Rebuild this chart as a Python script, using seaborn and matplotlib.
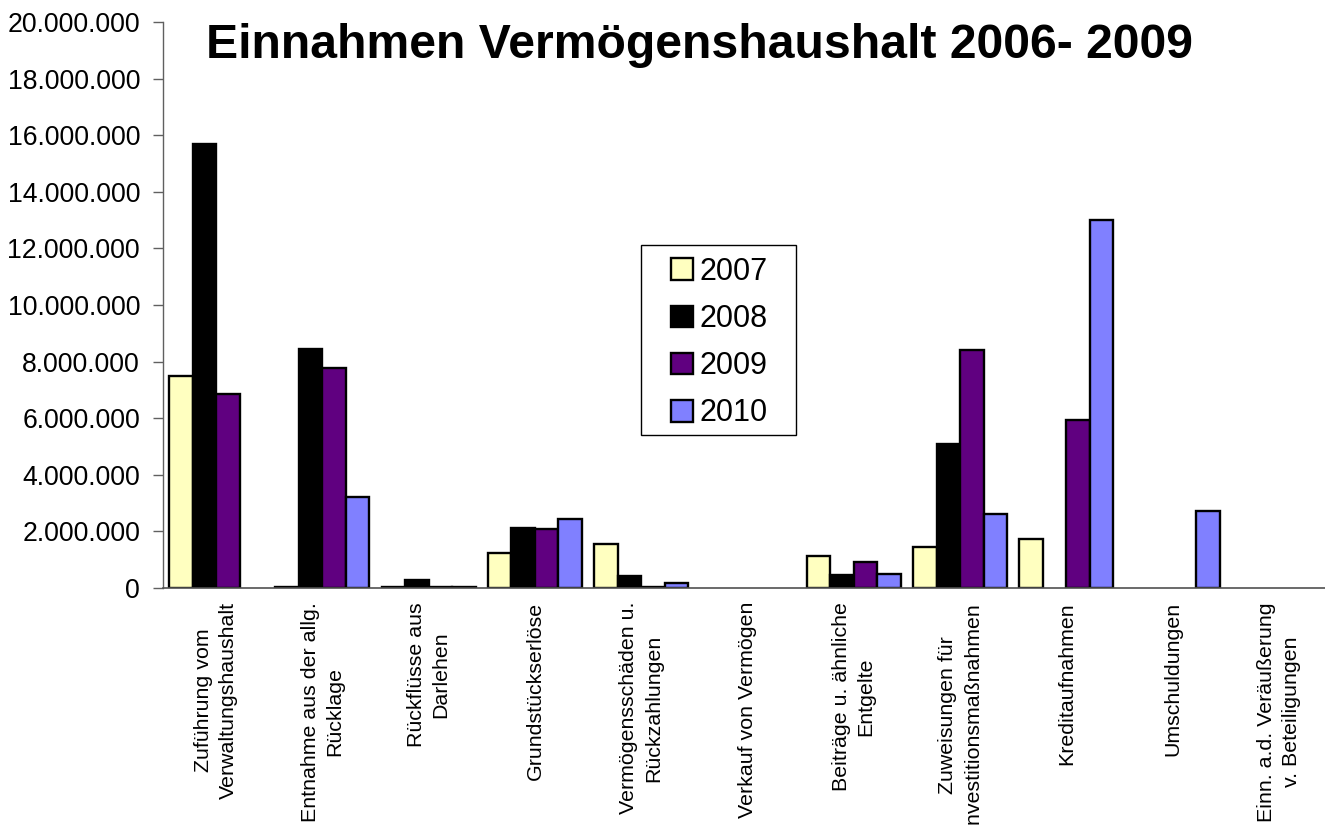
import numpy as np
import pandas as pd
import seaborn as sns
import matplotlib.pyplot as plt
from matplotlib.patches import Rectangle
from matplotlib.ticker import FuncFormatter, FixedLocator

# Daten (Werte in Euro)
kategorien = [
    "Zuführung vom\nVerwaltungshaushalt",
    "Entnahme aus der allg.\nRücklage",
    "Rückflüsse aus\nDarlehen",
    "Grundstückserlöse",
    "Vermögensschäden u.\nRückzahlungen",
    "Verkauf von Vermögen",
    "Beiträge u. ähnliche\nEntgelte",
    "Zuweisungen für\nInvestitionsmaßnahmen",
    "Kreditaufnahmen",
    "Umschuldungen",
    "Einn. a.d. Veräußerung\nv. Beteiligungen",
]
jahre = ["2007", "2008", "2009", "2010"]

werte_2007 = [7500000, 50000, 30000, 1240000, 1550000, np.nan, 1120000, 1440000, 1730000, np.nan, np.nan]
werte_2008 = [15700000, 8450000, 280000, 2120000, 420000, np.nan, 470000, 5100000, np.nan, np.nan, np.nan]
werte_2009 = [6850000, 7780000, 40000, 2100000, 30000, np.nan, 920000, 8400000, 5950000, np.nan, np.nan]
werte_2010 = [np.nan, 3220000, 50000, 2450000, 180000, np.nan, 500000, 2600000, 13000000, 2720000, np.nan]

farben = ["#FFFFC0", "#000000", "#600080", "#8080FF"]

# Long-Format für seaborn
rows = []
for jahr, werte in zip(jahre, [werte_2007, werte_2008, werte_2009, werte_2010]):
    for kat, w in zip(kategorien, werte):
        rows.append({"Kategorie": kat, "Jahr": jahr, "Wert": w})
df = pd.DataFrame(rows).dropna()

sns.set_style("white")
plt.rcParams["font.family"] = ["Liberation Sans", "DejaVu Sans"]
plt.rcParams["text.color"] = "black"
plt.rcParams["xtick.color"] = "black"
plt.rcParams["ytick.color"] = "black"

fig = plt.figure(figsize=(13.25, 8.25), dpi=100)
ax = fig.add_axes([163 / 1325, 1 - 588 / 825, 1169 / 1325, 566 / 825])

sns.barplot(data=df, x="Kategorie", y="Wert", hue="Jahr", order=kategorien,
            hue_order=jahre, palette=farben, saturation=1, width=0.885, gap=0,
            edgecolor="black", linewidth=1.7, errorbar=None, ax=ax)

ax.set_xlim(-0.5, len(kategorien) - 0.5)
ax.set_ylim(0, 20000000)
ax.set_yticks(np.arange(0, 20000001, 2000000))
ax.yaxis.set_major_formatter(FuncFormatter(lambda v, p: f"{int(v):,}".replace(",", ".")))
ax.set_xlabel("")
ax.set_ylabel("")

ax.xaxis.set_minor_locator(FixedLocator(np.arange(-0.5, len(kategorien), 1.0)))
ax.tick_params(axis="x", which="major", length=0, pad=10, labelsize=15.4)
ax.tick_params(axis="x", which="minor", length=12, direction="inout", color="#404040", width=1)
ax.tick_params(axis="y", which="major", length=7.5, direction="out", color="#606060",
               width=1, labelsize=19.2, pad=9, left=True)
for lab in ax.get_xticklabels():
    lab.set_rotation(90)
    lab.set_ha("center")
    lab.set_va("top")
    lab.set_multialignment("center")
    lab.set_linespacing(1.38)

for s in ["top", "right"]:
    ax.spines[s].set_visible(False)
ax.spines["left"].set_color("#606060")
ax.spines["bottom"].set_color("#505050")
ax.spines["left"].set_linewidth(1)
ax.spines["bottom"].set_linewidth(1.2)

# Legende ohne eigenen Rahmen, Rahmen separat an fester Stelle
handles, labels = ax.get_legend_handles_labels()
ax.legend(handles, labels, loc="upper left", bbox_to_anchor=(671 / 1325, 1 - 257 / 825),
          bbox_transform=fig.transFigure, borderaxespad=0, borderpad=0, frameon=False,
          fontsize=22, handlelength=0.72, handleheight=0.72, handletextpad=0.22,
          labelspacing=0.56, title=None)
fig.add_artist(Rectangle((641 / 1325, 1 - 435 / 825), 155 / 1325, 190 / 825,
                         transform=fig.transFigure, facecolor="none",
                         edgecolor="black", linewidth=1, zorder=5))

fig.text(700 / 1325, 1 - 45 / 825, "Einnahmen Vermögenshaushalt 2006- 2009",
         ha="center", va="center", fontsize=34.7, fontweight="bold")

fig.savefig("out.png", dpi=100)
